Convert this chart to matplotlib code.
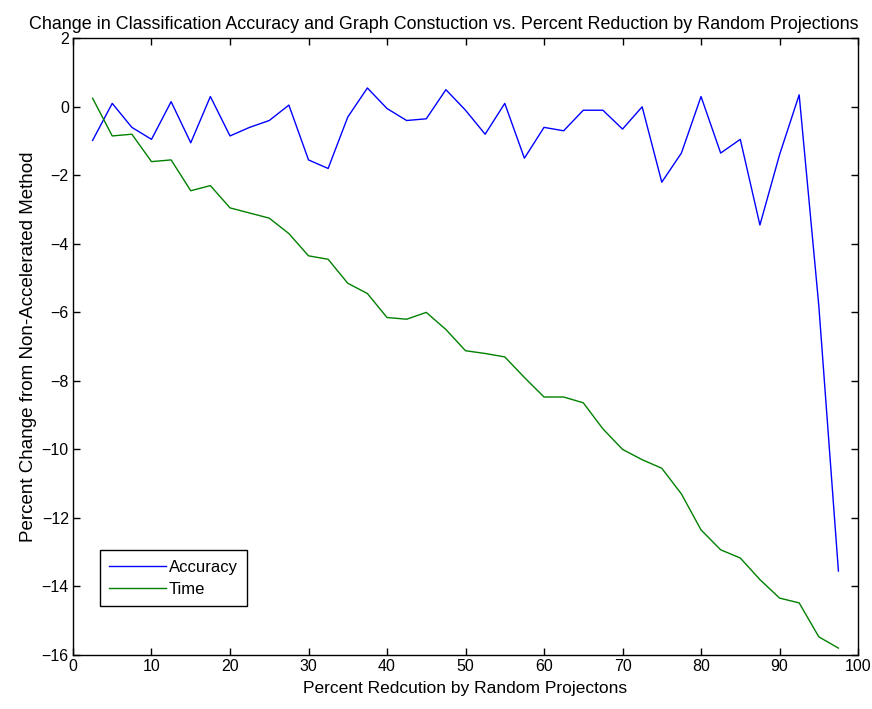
import matplotlib
matplotlib.use("Agg")
import matplotlib.pyplot as plt
import numpy as np

# percent reduction by random projections
reduction = [2.5, 5, 7.5, 10, 12.5, 15, 17.5, 20, 22.5, 25, 27.5, 30, 32.5,
             35, 37.5, 40, 42.5, 45, 47.5, 50, 52.5, 55, 57.5, 60, 62.5, 65,
             67.5, 70, 72.5, 75, 77.5, 80, 82.5, 85, 87.5, 90, 92.5, 95, 97.5]

accuracy = [-0.98, 0.1, -0.6, -0.95, 0.15, -1.05, 0.3, -0.85, -0.6, -0.4,
            0.05, -1.55, -1.8, -0.3, 0.55, -0.05, -0.4, -0.35, 0.5, -0.1,
            -0.8, 0.1, -1.5, -0.6, -0.7, -0.1, -0.1, -0.65, 0.0, -2.2,
            -1.35, 0.3, -1.35, -0.95, -3.45, -1.4, 0.35, -5.8, -13.55]

time = [0.25, -0.85, -0.8, -1.6, -1.55, -2.45, -2.3, -2.95, -3.1, -3.25,
        -3.7, -4.35, -4.45, -5.15, -5.45, -6.15, -6.2, -6.0, -6.5, -7.12,
        -7.2, -7.3, -7.9, -8.47, -8.47, -8.64, -9.4, -10.0, -10.3, -10.55,
        -11.3, -12.35, -12.93, -13.17, -13.8, -14.34, -14.48, -15.47, -15.8]

plt.rcParams['font.family'] = ['Liberation Sans', 'DejaVu Sans']
plt.rcParams['font.size'] = 11

fig = plt.figure(figsize=(8.72, 7.09), dpi=100)
ax = fig.add_axes([0.0837, 0.0762, 0.9003, 0.8698])

ax.plot(reduction, accuracy, color='#0000ff', lw=1.0, label='Accuracy')
ax.plot(reduction, time, color='#008000', lw=1.0, label='Time')

ax.set_xlim(0, 100)
ax.set_ylim(-16, 2)
ax.set_xticks(np.arange(0, 101, 10))
ax.set_yticks(np.arange(-16, 3, 2))
ax.tick_params(direction='in', top=True, right=True, length=5, width=1,
               labelsize=11.5, pad=3)
for s in ax.spines.values():
    s.set_linewidth(1.0)

# title sits a bit left of the axes centre in the original
ax.set_title('Change in Classification Accuracy and Graph Constuction vs. Percent Reduction by Random Projections',
             fontsize=12.9, pad=7, x=0.4726)
ax.set_xlabel('Percent Redcution by Random Projectons', fontsize=12.5, labelpad=5)
ax.set_ylabel('Percent Change from Non-Accelerated Method', fontsize=13.5, labelpad=3)

leg = ax.legend(loc='lower left', bbox_to_anchor=(0.034, 0.079), borderaxespad=0,
                fancybox=False, edgecolor='black', framealpha=1, fontsize=12,
                handlelength=3.4, handletextpad=0.2, borderpad=0.55,
                labelspacing=0.45)
leg.get_frame().set_linewidth(1.0)

fig.savefig('out.png', dpi=100)
